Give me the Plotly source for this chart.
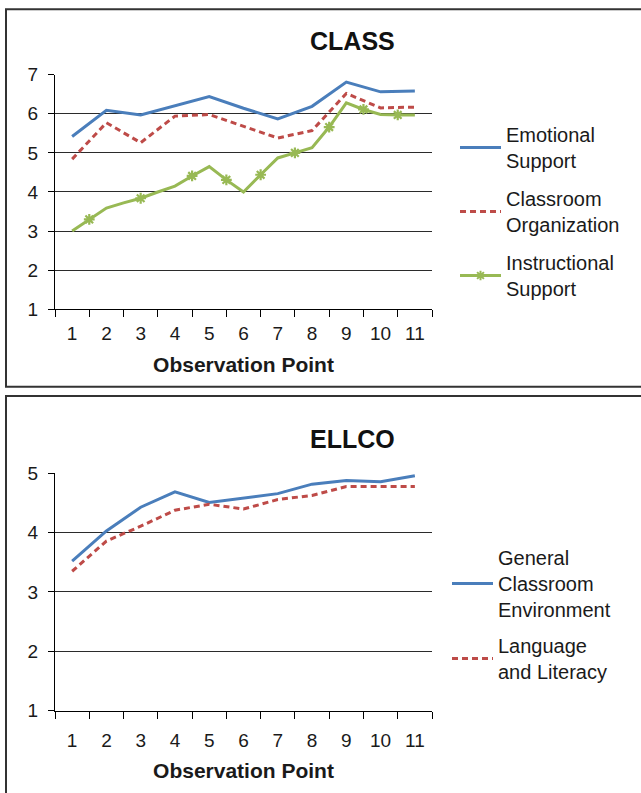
import plotly.graph_objects as go

# ---------------- data ----------------
obs_points = [1, 2, 3, 4, 5, 6, 7, 8, 9, 10, 11]
obs_labels = ["1", "2", "3", "4", "5", "6", "7", "8", "9", "10", "11"]

emotional = [5.42, 6.09, 5.97, 6.20, 6.44, 6.14, 5.87, 6.19, 6.81, 6.56, 6.58]
organization = [4.84, 5.77, 5.26, 5.94, 5.98, 5.69, 5.38, 5.57, 6.52, 6.15, 6.17]

inst_x = [1, 1.5, 2, 2.5, 3, 3.5, 4, 4.5, 5, 5.5, 6, 6.5, 7, 7.5, 8, 8.5, 9, 9.5, 10, 10.5, 11]
inst_y = [3.00, 3.30, 3.59, 3.72, 3.84, 4.00, 4.15, 4.41, 4.65, 4.31, 4.00,
          4.44, 4.87, 5.00, 5.13, 5.66, 6.28, 6.11, 5.98, 5.97, 5.97]
inst_marked = [False, True, False, False, True, False, False, True, False, True, False,
               True, False, True, False, True, False, True, False, True, False]

general_env = [3.52, 4.03, 4.43, 4.69, 4.51, 4.59, 4.66, 4.82, 4.88, 4.86, 4.96]
lang_lit = [3.35, 3.86, 4.11, 4.38, 4.48, 4.40, 4.56, 4.63, 4.78, 4.78, 4.78]

class_ticks = [1, 2, 3, 4, 5, 6, 7]
ellco_ticks = [1, 2, 3, 4, 5]

# ---------------- style ----------------
W, H = 641, 793
FONT = "Liberation Sans, Arial, Helvetica, sans-serif"
BLUE = "#4A7EBB"
RED = "#BE4B48"
GREEN = "#98B954"
GRID = "#2b2b2b"


def px_x(v):
    return v / W


def px_y(v):
    return 1 - v / H


fig = go.Figure()

# CLASS panel
fig.add_trace(go.Scatter(x=obs_points, y=emotional, mode="lines", name="Emotional<br>Support",
                         line=dict(color=BLUE, width=3), legend="legend", legendgroup="a",
                         xaxis="x", yaxis="y"))
fig.add_trace(go.Scatter(x=obs_points, y=organization, mode="lines", name="Classroom<br>Organization",
                         line=dict(color=RED, width=3, dash="6px,4px"), legend="legend", legendgroup="b",
                         xaxis="x", yaxis="y"))
fig.add_trace(go.Scatter(x=inst_x, y=inst_y, mode="lines", name="Instructional<br>Support",
                         line=dict(color=GREEN, width=3), showlegend=False, legendgroup="c",
                         xaxis="x", yaxis="y"))
mx = [x for x, m in zip(inst_x, inst_marked) if m]
my = [y for y, m in zip(inst_y, inst_marked) if m]
fig.add_trace(go.Scatter(x=mx, y=my, mode="markers", name="Instructional<br>Support",
                         marker=dict(symbol="asterisk-open", size=9, color=GREEN,
                                     line=dict(color=GREEN, width=2.2)),
                         showlegend=False, legendgroup="c", xaxis="x", yaxis="y"))
# legend entry for the Instructional Support series (line + marker)
fig.add_trace(go.Scatter(x=[None], y=[None], mode="lines+markers", name="Instructional<br>Support",
                         line=dict(color=GREEN, width=3),
                         marker=dict(symbol="asterisk-open", size=8, color=GREEN,
                                     line=dict(color=GREEN, width=2)),
                         legend="legend", legendgroup="c", xaxis="x", yaxis="y"))

# ELLCO panel
fig.add_trace(go.Scatter(x=obs_points, y=general_env, mode="lines", name="General<br>Classroom<br>Environment",
                         line=dict(color=BLUE, width=3), legend="legend2", legendgroup="d",
                         xaxis="x2", yaxis="y2"))
fig.add_trace(go.Scatter(x=obs_points, y=lang_lit, mode="lines", name="Language<br>and Literacy",
                         line=dict(color=RED, width=3, dash="6px,4px"), legend="legend2", legendgroup="e",
                         xaxis="x2", yaxis="y2"))

xdom = [px_x(55), px_x(432)]
bounds = [i + 0.5 for i in range(0, 12)]


def xaxis_cfg(anchor, label_gap, title_gap):
    return dict(domain=xdom, range=[0.5, 11.5], anchor=anchor, automargin=False,
                tickmode="array", tickvals=obs_points, ticktext=obs_labels,
                ticks="", showgrid=False, zeroline=False,
                showline=True, linecolor="black", linewidth=1,
                tickfont=dict(family=FONT, size=19, color="#1a1a1a"),
                ticklabelstandoff=label_gap,
                minor=dict(tickmode="array", tickvals=bounds, ticks="outside",
                           ticklen=7, tickcolor="black", tickwidth=1, showgrid=False),
                title=dict(text="<b>Observation Point</b>",
                           font=dict(family=FONT, size=21, color="#1a1a1a"), standoff=title_gap))


def yaxis_cfg(anchor, dom, rng, ticks):
    return dict(domain=dom, range=rng, anchor=anchor, automargin=False,
                tickmode="array", tickvals=ticks,
                ticks="outside", ticklen=6, tickcolor="black",
                showgrid=True, gridcolor=GRID, gridwidth=1.3, zeroline=False,
                showline=True, linecolor="black", linewidth=1,
                tickfont=dict(family=FONT, size=19, color="#1a1a1a"),
                ticklabelstandoff=6)


LEG_FONT = dict(family=FONT, size=20, color="#1a1a1a")

fig.update_layout(
    width=W, height=H,
    margin=dict(l=0, r=0, t=0, b=0, pad=0, autoexpand=False),
    paper_bgcolor="white", plot_bgcolor="white",
    font=dict(family=FONT, color="#1a1a1a"),
    xaxis=xaxis_cfg("y", 7, 14),
    yaxis=yaxis_cfg("x", [px_y(309.3), px_y(74.5)], [1, 7.004], class_ticks),
    xaxis2=xaxis_cfg("y2", 13, 13),
    yaxis2=yaxis_cfg("x2", [px_y(710.5), px_y(473.3)], [1, 5.003], ellco_ticks),
    legend=dict(x=px_x(455), xanchor="left", y=px_y(115), yanchor="top",
                bgcolor="rgba(0,0,0,0)", font=LEG_FONT,
                itemwidth=41, tracegroupgap=9, traceorder="grouped", valign="middle"),
    legend2=dict(x=px_x(447), xanchor="left", y=px_y(538), yanchor="top",
                 bgcolor="rgba(0,0,0,0)", font=LEG_FONT,
                 itemwidth=41, tracegroupgap=7, traceorder="grouped", valign="middle"),
    showlegend=True,
    annotations=[
        dict(text="<b>CLASS</b>", x=px_x(352), y=px_y(41), xref="paper", yref="paper",
             showarrow=False, font=dict(family=FONT, size=25, color="#111"),
             xanchor="center", yanchor="middle"),
        dict(text="<b>ELLCO</b>", x=px_x(352), y=px_y(439), xref="paper", yref="paper",
             showarrow=False, font=dict(family=FONT, size=25, color="#111"),
             xanchor="center", yanchor="middle"),
    ],
    shapes=[
        dict(type="rect", xref="paper", yref="paper", x0=px_x(6), x1=1.05,
             y0=px_y(386.7), y1=px_y(9.3), line=dict(color="#333", width=2), layer="below"),
        dict(type="rect", xref="paper", yref="paper", x0=px_x(6), x1=1.05,
             y0=-0.05, y1=px_y(396), line=dict(color="#333", width=2), layer="below"),
    ],
)

fig.write_html("out.html", config={"displayModeBar": False},
               post_script="document.body.style.margin='0';")
